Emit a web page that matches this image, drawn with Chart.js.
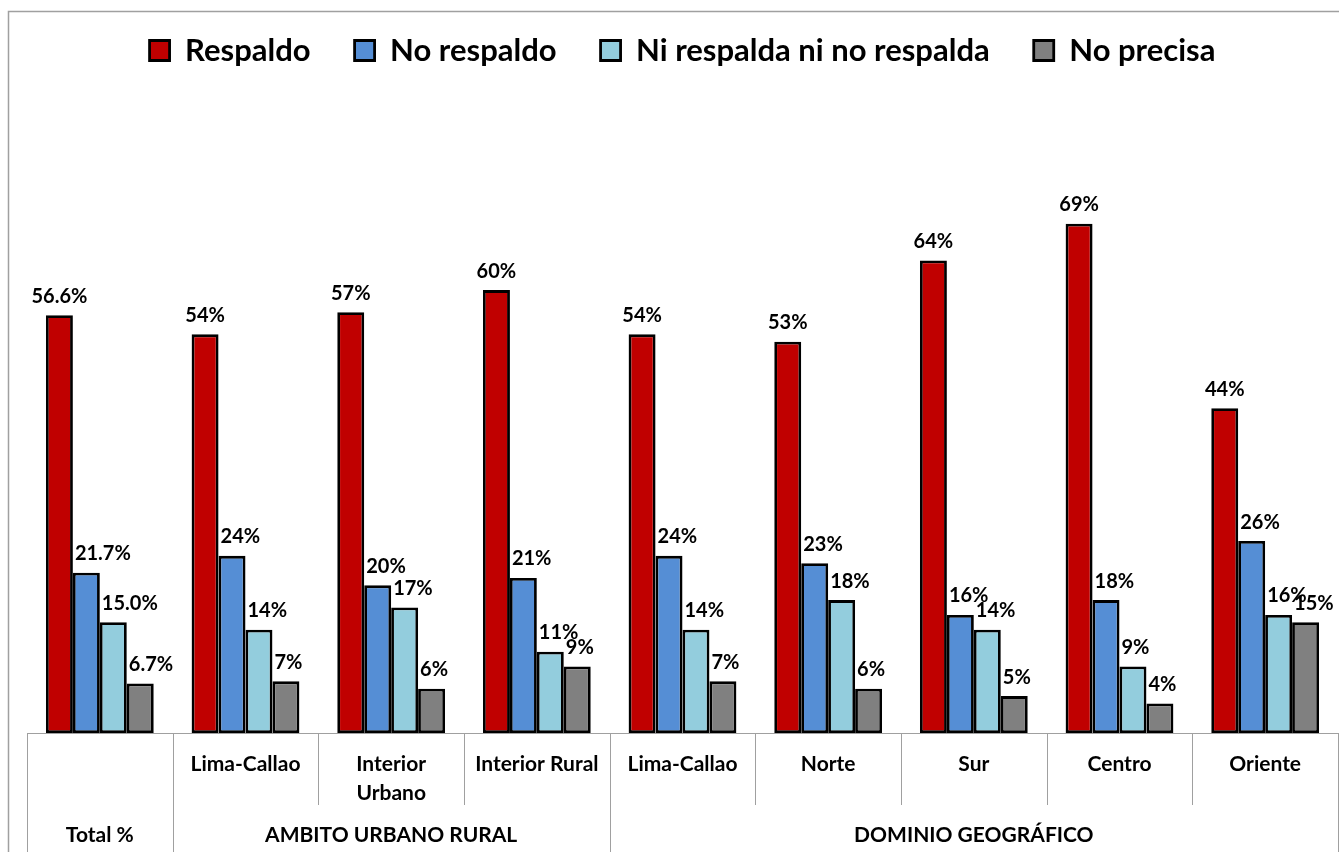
<!DOCTYPE html>
<html>
<head>
<meta charset="utf-8">
<script src="https://cdn.jsdelivr.net/npm/chart.js@4.4.0/dist/chart.umd.min.js"></script>
<style>
body { margin: 0; background: #fff; }
canvas { display: block; }
</style>
</head>
<body>
<canvas id="myChart" width="1339" height="852"></canvas>
<script>
// categories and groups
var categories = ['', 'Lima-Callao', ['Interior', 'Urbano'], 'Interior Rural', 'Lima-Callao', 'Norte', 'Sur', 'Centro', 'Oriente'];
var groupLabels = ['Total %', 'AMBITO URBANO RURAL', 'DOMINIO GEOGRÁFICO'];
var groupSizes = [1, 3, 5];
var decimals = [1, 0, 0, 0, 0, 0, 0, 0, 0];

// series values (%)
var respaldo   = [56.6, 54, 57, 60, 54, 53, 64, 69, 44];
var noRespaldo = [21.7, 24, 20, 21, 24, 23, 16, 18, 26];
var niRespalda = [15.0, 14, 17, 11, 14, 18, 14, 9, 16];
var noPrecisa  = [6.7, 7, 6, 9, 7, 6, 5, 4, 15];

Chart.defaults.font.family = 'Lato, sans-serif';
Chart.defaults.color = '#000';

var extras = {
  id: 'extras',
  beforeDraw: function(chart) {
    var c = chart.ctx;
    c.save();
    c.strokeStyle = '#a0a0a0';
    c.lineWidth = 1.5;
    c.beginPath();
    c.moveTo(8.5, 852);
    c.lineTo(8.5, 11.5);
    c.lineTo(1339, 11.5);
    c.stroke();
    c.restore();
  },
  afterDraw: function(chart) {
    var c = chart.ctx;
    var area = chart.chartArea;
    var n = categories.length;
    var catW = (area.right - area.left) / n;
    c.save();
    // dividers under the axis
    var longLines = [0];
    var acc = 0;
    groupSizes.forEach(function(s) { acc += s; longLines.push(acc); });
    c.strokeStyle = '#a0a0a0';
    c.lineWidth = 1;
    for (var i = 0; i <= n; i++) {
      var bx = Math.round(area.left + i * catW) + 0.5;
      var isLong = longLines.indexOf(i) >= 0;
      c.beginPath();
      c.moveTo(bx, area.bottom);
      c.lineTo(bx, isLong ? 852 : 805);
      c.stroke();
    }
    // group labels
    c.fillStyle = '#000';
    c.font = 'bold 21px Lato, sans-serif';
    c.textAlign = 'center';
    c.textBaseline = 'middle';
    var start = 0;
    groupLabels.forEach(function(g, k) {
      var x0 = area.left + start * catW;
      var x1 = area.left + (start + groupSizes[k]) * catW;
      c.fillText(g, (x0 + x1) / 2, 835);
      start += groupSizes[k];
    });
    c.restore();
  },
  afterDatasetsDraw: function(chart) {
    var c = chart.ctx;
    c.save();
    c.fillStyle = '#000';
    c.font = 'bold 20px Lato, sans-serif';
    c.textBaseline = 'bottom';
    chart.data.datasets.forEach(function(ds, d) {
      var meta = chart.getDatasetMeta(d);
      meta.data.forEach(function(bar, i) {
        var txt = ds.data[i].toFixed(decimals[i]) + '%';
        if (d === 0) {
          c.textAlign = 'center';
          c.fillText(txt, bar.x, bar.y - 9);
        } else {
          c.textAlign = 'left';
          c.fillText(txt, bar.x - bar.width / 2 + 2, bar.y - 9);
        }
      });
    });
    c.restore();
  }
};

var ctx = document.getElementById('myChart');
var myChart = new Chart(ctx, {
  type: 'bar',
  data: {
    labels: categories,
    datasets: [
      { label: 'Respaldo', data: respaldo, backgroundColor: '#C00000' },
      { label: 'No respaldo', data: noRespaldo, backgroundColor: '#558ED5' },
      { label: 'Ni respalda ni no respalda', data: niRespalda, backgroundColor: '#93CDDD' },
      { label: 'No precisa', data: noPrecisa, backgroundColor: '#808080' }
    ].map(function(ds) {
      ds.borderColor = '#000';
      ds.borderWidth = 2.8;
      ds.borderSkipped = false;
      ds.categoryPercentage = 0.74;
      ds.barPercentage = 1;
      return ds;
    })
  },
  options: {
    responsive: false,
    animation: false,
    devicePixelRatio: 1,
    layout: { padding: { left: 27, right: 1, top: -9, bottom: 0 } },
    plugins: {
      legend: {
        position: 'top',
        labels: {
          boxWidth: 20,
          boxHeight: 20,
          padding: 44,
          color: '#000',
          font: { size: 31, weight: 'bold' }
        }
      },
      tooltip: { enabled: false }
    },
    scales: {
      x: {
        grid: { display: false, drawTicks: false },
        border: { display: true, color: '#a0a0a0', width: 1 },
        ticks: {
          padding: 17,
          maxRotation: 0,
          autoSkip: false,
          font: { size: 21, weight: 'bold', lineHeight: 1.38 },
          color: '#000'
        },
        afterFit: function(scale) { scale.height = 119; }
      },
      y: {
        display: false,
        min: 0,
        max: 89
      }
    }
  },
  plugins: [extras]
});
</script>
</body>
</html>
